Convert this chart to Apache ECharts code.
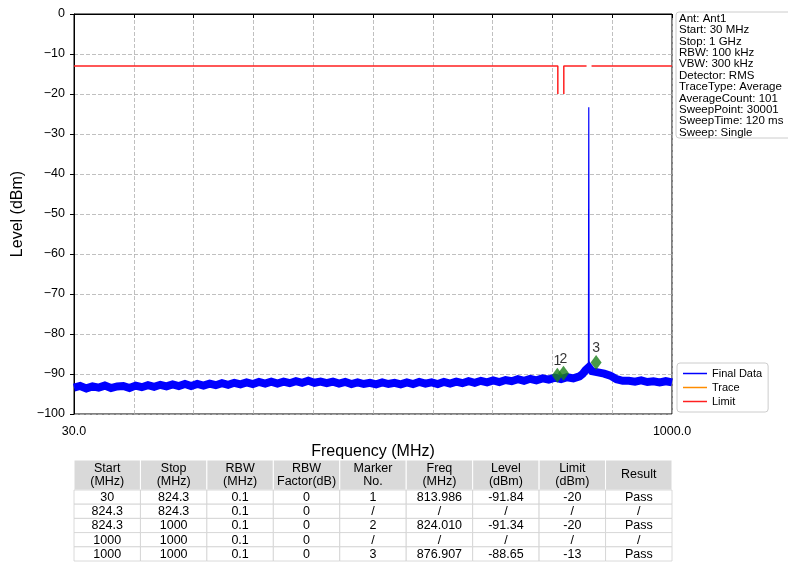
<!DOCTYPE html>
<html>
<head>
<meta charset="utf-8">
<script src="https://cdn.jsdelivr.net/npm/echarts@6.0.0/dist/echarts.min.js"></script>
<style>
  html, body { margin: 0; padding: 0; background: #fff; }
  #chart { width: 788px; height: 562px; }
</style>
</head>
<body>
<div id="chart"></div>
<script>
// trace (Final Data), MHz / dBm
const traceFreq = [30, 40, 50, 60, 70, 80, 90, 100, 110, 120,
  130, 140, 150, 160, 170, 180, 190, 200, 210, 220,
  230, 240, 250, 260, 270, 280, 290, 300, 310, 320,
  330, 340, 350, 360, 370, 380, 390, 400, 410, 420,
  430, 440, 450, 460, 470, 480, 490, 500, 510, 520,
  530, 540, 550, 560, 570, 580, 590, 600, 610, 620,
  630, 640, 650, 660, 670, 680, 690, 700, 710, 720,
  730, 740, 750, 760, 770, 780, 790, 800, 810, 820,
  830, 840, 850, 855, 860, 865, 870, 880, 890, 900,
  910, 920, 930, 940, 950, 960, 970, 980, 990, 1000]
const traceLevel = [-93.4, -93.0, -93.6, -93.1, -93.4, -92.9, -93.5, -93.1, -93.0, -93.5,
  -92.9, -93.3, -92.8, -93.2, -92.7, -93.1, -92.6, -93.0, -92.5, -93.0,
  -92.5, -92.9, -92.4, -92.8, -92.3, -92.7, -92.2, -92.6, -92.1, -92.5,
  -92.0, -92.4, -91.9, -92.4, -91.9, -92.3, -91.8, -92.2, -91.7, -92.2,
  -91.9, -92.3, -91.9, -92.4, -92.0, -92.5, -92.1, -92.5, -92.2, -92.6,
  -92.1, -92.5, -92.2, -92.6, -92.1, -92.5, -92.0, -92.4, -92.1, -92.5,
  -92.0, -92.4, -91.9, -92.3, -91.8, -92.2, -91.7, -92.1, -91.6, -92.0,
  -91.5, -91.8, -91.3, -91.7, -91.2, -91.6, -91.1, -91.4, -90.9, -91.3,
  -90.8, -91.1, -90.6, -90.0, -89.0, -88.3, -89.3, -89.6, -89.9, -90.4,
  -91.3, -91.7, -91.7, -91.9, -91.6, -92.0, -91.8, -92.1, -91.8, -92.1]
// narrow carrier spike
const spikeFreq = [864.4, 865.0, 865.6]
const spikeLevel = [-89.0, -23.3, -89.0]

// limit line, null = break
const limitFreq = [30, 814.8, 814.8, null, 824.5, 824.5, 861.4, null, 869.5, 1000]
const limitLevel = [-13, -13, -20, null, -20, -13, -13, null, -13, -13]

// markers
const markerNo = ['1', '2', '3']
const markerFreq = [813.986, 824.010, 876.907]
const markerLevel = [-91.84, -91.34, -88.65]

// axis ticks
const xTicks = [30, 127, 224, 321, 418, 515, 612, 709, 806, 903, 1000]
const xLabels = [30, 1000]

const infoLines = ['Ant: Ant1', 'Start: 30 MHz', 'Stop: 1 GHz', 'RBW: 100 kHz', 'VBW: 300 kHz',
  'Detector: RMS', 'TraceType: Average', 'AverageCount: 101', 'SweepPoint: 30001',
  'SweepTime: 120 ms', 'Sweep: Single']

const tableHead = [['Start', '(MHz)'], ['Stop', '(MHz)'], ['RBW', '(MHz)'], ['RBW', 'Factor(dB)'],
  ['Marker', 'No.'], ['Freq', '(MHz)'], ['Level', '(dBm)'], ['Limit', '(dBm)'], ['Result']]
const tableRows = [
  ['30', '824.3', '0.1', '0', '1', '813.986', '-91.84', '-20', 'Pass'],
  ['824.3', '824.3', '0.1', '0', '/', '/', '/', '/', '/'],
  ['824.3', '1000', '0.1', '0', '2', '824.010', '-91.34', '-20', 'Pass'],
  ['1000', '1000', '0.1', '0', '/', '/', '/', '/', '/'],
  ['1000', '1000', '0.1', '0', '3', '876.907', '-88.65', '-13', 'Pass'],
]

const FONT = '"Liberation Sans", Arial, sans-serif'

const chart = echarts.init(document.getElementById('chart'))

const traceData = traceFreq.map((f, i) => [f, traceLevel[i]])
const spikeData = spikeFreq.map((f, i) => [f, spikeLevel[i]])
const limitData = limitFreq.map((f, i) => (f === null ? ['-', '-'] : [f, limitLevel[i]]))
const markerData = markerFreq.map((f, i) => ({ value: [f, markerLevel[i]], name: markerNo[i] }))

// table graphics
const tLeft = 74
const tRight = 672
const tTop = 460
const headH = 30
const rowH = 14.2
const colW = (tRight - tLeft) / tableHead.length
const tableEls = []
tableHead.forEach((h, c) => {
  tableEls.push({
    type: 'rect',
    shape: { x: tLeft + c * colW, y: tTop, width: colW, height: headH },
    style: { fill: '#d9d9d9', stroke: '#ffffff', lineWidth: 1 },
  })
  tableEls.push({
    type: 'text',
    style: {
      x: tLeft + c * colW + colW / 2, y: tTop + headH / 2,
      text: h.join('\n'), align: 'center', verticalAlign: 'middle',
      font: '12.5px ' + FONT, fill: '#000', lineHeight: 13,
    },
  })
})
tableRows.forEach((row, r) => {
  row.forEach((v, c) => {
    const y = tTop + headH + r * rowH
    tableEls.push({
      type: 'rect',
      shape: { x: tLeft + c * colW, y: y, width: colW, height: rowH },
      style: { fill: '#ffffff', stroke: '#d0d0d0', lineWidth: 0.8 },
    })
    tableEls.push({
      type: 'text',
      style: {
        x: tLeft + c * colW + colW / 2, y: y + rowH / 2 + 0.5,
        text: v, align: 'center', verticalAlign: 'middle',
        font: '12.5px ' + FONT, fill: '#000',
      },
    })
  })
})

const option = {
  animation: false,
  textStyle: { fontFamily: FONT },
  grid: {
    left: 74, right: 116, top: 14, bottom: 148,
    show: true, borderColor: '#000', borderWidth: 1,
  },
  legend: {
    orient: 'vertical',
    left: 677, top: 363,
    icon: 'rect', itemWidth: 24, itemHeight: 1.5, itemGap: 3,
    padding: [5, 6, 5, 6],
    backgroundColor: '#fff', borderColor: '#cccccc', borderWidth: 1, borderRadius: 3,
    textStyle: { fontSize: 11, color: '#000', fontFamily: FONT },
    data: ['Final Data', 'Trace', 'Limit'],
  },
  xAxis: {
    type: 'value', min: 30, max: 1000,
    name: 'Frequency (MHz)', nameLocation: 'middle', nameGap: 30,
    nameTextStyle: { fontSize: 16, color: '#000', fontFamily: FONT },
    axisLine: { lineStyle: { color: '#000' } },
    axisTick: { show: true, inside: false, length: 4, customValues: xTicks, lineStyle: { color: '#000' } },
    axisLabel: {
      customValues: xLabels, color: '#000', fontSize: 12.5, margin: 11,
      formatter: (v) => v.toFixed(1),
    },
    splitLine: { show: true, lineStyle: { color: '#b0b0b0', type: [4, 2], width: 0.8 } },
  },
  yAxis: {
    type: 'value', min: -100, max: 0, interval: 10,
    name: 'Level (dBm)', nameLocation: 'middle', nameGap: 48,
    nameTextStyle: { fontSize: 16, color: '#000', fontFamily: FONT },
    axisLine: { show: true, lineStyle: { color: '#000' } },
    axisTick: { show: true, inside: false, length: 4, lineStyle: { color: '#000' } },
    axisLabel: {
      color: '#000', fontSize: 12.5, margin: 9,
      formatter: (v) => String(v).replace('-', '\u2212'),
    },
    splitLine: { show: true, lineStyle: { color: '#b0b0b0', type: [4, 2], width: 0.8 } },
  },
  series: [
    {
      name: 'Final Data', type: 'line', data: traceData,
      showSymbol: false, color: '#0000ff',
      lineStyle: { width: 8, color: '#0000ff', join: 'miter' },
      z: 3,
    },
    {
      name: 'Final Data', type: 'line', data: spikeData,
      showSymbol: false, color: '#0000ff',
      lineStyle: { width: 1.2, color: '#0000ff' },
      z: 3,
    },
    {
      name: 'Trace', type: 'line', data: [],
      showSymbol: false, color: '#ff8c00',
      lineStyle: { width: 1.5, color: '#ff8c00' },
    },
    {
      name: 'Limit', type: 'line', data: limitData,
      showSymbol: false, connectNulls: false, color: '#ff2020',
      lineStyle: { width: 1.5, color: '#ff2020' },
      z: 2,
    },
    {
      name: 'Marker', type: 'scatter', data: markerData,
      symbol: 'diamond', symbolSize: [11, 15], symbolOffset: [0, -6],
      itemStyle: { color: '#1a801a' },
      label: {
        show: true, position: 'top', distance: 0,
        formatter: (p) => p.name, color: '#000', fontSize: 14, fontFamily: FONT,
      },
      z: 5,
    },
  ],
  graphic: [
    {
      type: 'rect',
      shape: { x: 676, y: 12, width: 130, height: 126, r: 3 },
      style: { fill: '#fff', stroke: '#cccccc', lineWidth: 1 },
    },
    {
      type: 'text',
      style: {
        x: 679, y: 13, text: infoLines.join('\n'),
        font: '11.5px ' + FONT, fill: '#000', lineHeight: 11.4,
      },
    },
  ].concat(tableEls),
}

option && chart.setOption(option)
</script>
</body>
</html>
